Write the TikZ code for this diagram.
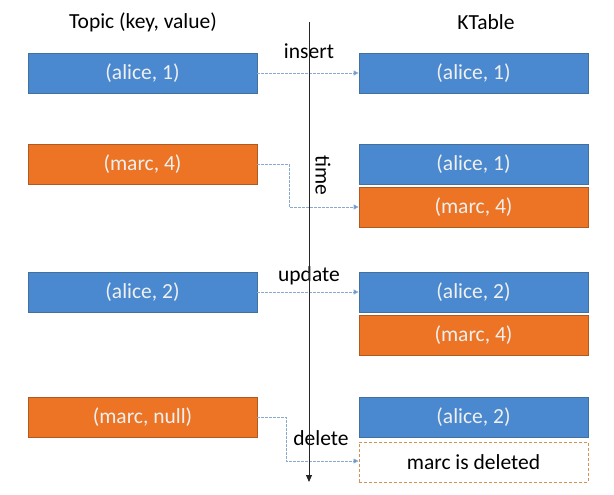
\documentclass[tikz,border=0pt]{standalone}
\usepackage{fontspec}
\setmainfont{Carlito}
\usetikzlibrary{arrows.meta}
\definecolor{boxblue}{HTML}{4A89CF}
\definecolor{blueedge}{HTML}{41719C}
\definecolor{boxorange}{HTML}{EC7424}
\definecolor{orangeedge}{HTML}{AE5A21}
\definecolor{linkblue}{HTML}{8AA9CF}
\definecolor{tipblue}{HTML}{4A89CF}
\definecolor{delorange}{HTML}{D39152}
\begin{document}
\begin{tikzpicture}[x=1pt,y=-1pt,
  every node/.style={font=\fontsize{21.5}{25}\selectfont},
  rec/.style={rectangle, minimum width=229pt, minimum height=40pt, inner sep=0pt, line width=0.8pt, text=white!94!black},
  bluerec/.style={rec, fill=boxblue, draw=blueedge},
  orangerec/.style={rec, fill=boxorange, draw=orangeedge},
  delrec/.style={rectangle, minimum width=229pt, minimum height=40pt, inner sep=0pt, draw=delorange, dashed, line width=1pt, dash pattern=on 3pt off 2pt, text=black},
  link/.style={draw=linkblue, line width=0.9pt, dash pattern=on 2.5pt off 1.5pt, -{Triangle[length=5pt,width=5pt,fill=tipblue]}},
  lbl/.style={text=black, inner sep=1pt}]
\useasboundingbox (0,0) rectangle (614,495);
% titles
\node[lbl] (t1) at (143,22) {Topic (key, value)};
\node[lbl] (t2) at (486,22) {KTable};
% left boxes
\node[bluerec] (L1) at (142.5,73) {(alice, 1)};
\node[orangerec] (L2) at (142.5,164) {(marc, 4)};
\node[bluerec] (L3) at (142.5,292) {(alice, 2)};
\node[orangerec] (L4) at (142.5,417) {(marc, null)};
% right boxes
\node[bluerec] (R1) at (473.5,73) {(alice, 1)};
\node[bluerec] (R2a) at (473.5,164) {(alice, 1)};
\node[orangerec] (R2b) at (473.5,207) {(marc, 4)};
\node[bluerec] (R3a) at (473.5,292) {(alice, 2)};
\node[orangerec] (R3b) at (473.5,335) {(marc, 4)};
\node[bluerec] (R4a) at (473.5,417) {(alice, 2)};
\node[delrec] (R4b) at (473.5,462) {marc is deleted};
% labels
\node[lbl] (ins) at (309,51) {insert};
\node[lbl, rotate=-90] (tim) at (323,175) {time};
\node[lbl] (upd) at (309,276) {update};
\node[lbl] (del) at (321,438) {delete};
% connectors
\coordinate (k2) at (289,207);
\coordinate (k4) at (286,461);
\draw[link] (L1.east) -- (R1.west);
\draw[link] (L2.east) -| (k2) -- (R2b.west);
\draw[link] (L3.east) -- (R3a.west);
\draw[link] (L4.east) -| (k4) -- (R4b.west |- k4);
% time axis
\coordinate (ttop) at (309,22);
\coordinate (tbot) at (309,482);
\draw[line width=0.9pt, draw=black!85, -{Triangle[length=7pt,width=6pt]}] (ttop) -- (tbot);
\end{tikzpicture}
\end{document}
